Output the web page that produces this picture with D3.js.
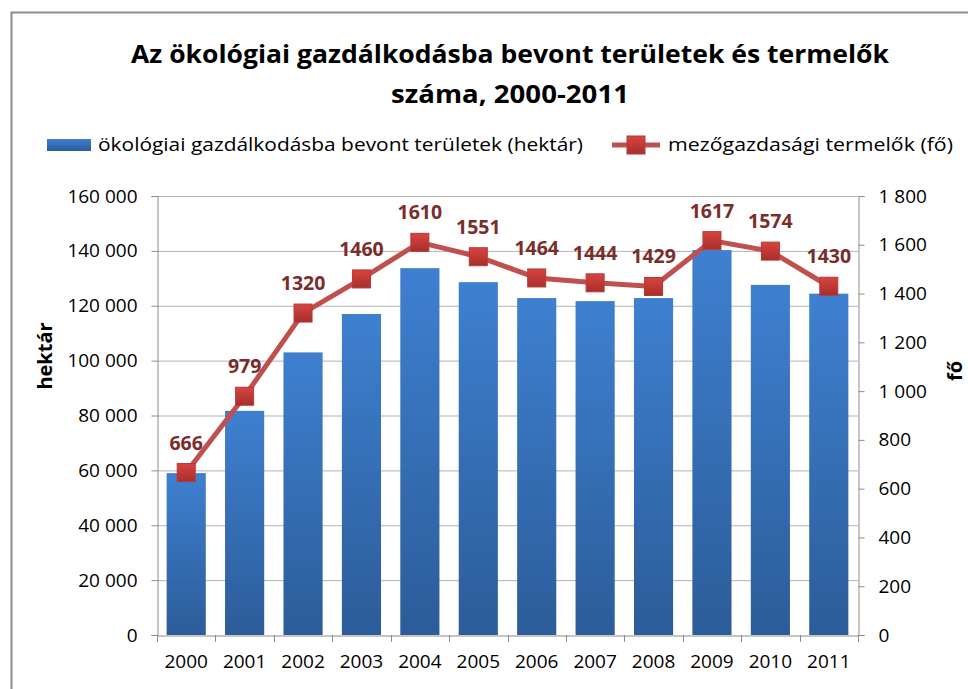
<!DOCTYPE html>
<html><head><meta charset="utf-8">
<script src="https://cdn.jsdelivr.net/npm/d3@7"></script>
<style>body{margin:0;background:#fff}svg{display:block}text{font-family:"Open Sans","DejaVu Sans",sans-serif}</style>
</head><body><svg id="c" width="968" height="689"></svg>
<script>
const years = ["2000","2001","2002","2003","2004","2005","2006","2007","2008","2009","2010","2011"];
const areaHa = [59000,81700,103000,117000,133700,128600,122800,121700,122800,140300,127600,124400];
const producers = [666,979,1320,1460,1610,1551,1464,1444,1429,1617,1574,1430];
const leftTicks = [0,20000,40000,60000,80000,100000,120000,140000,160000];
const rightTicks = [0,200,400,600,800,1000,1200,1400,1600,1800];
const titleLines = ["Az ökológiai gazdálkodásba  bevont területek és termelők","száma, 2000-2011"];
const seriesNames = ["ökológiai gazdálkodásba bevont területek (hektár)","mezőgazdasági termelők (fő)"];

const svg = d3.select("#c");
const L=157, R=858, T=196, B=635;
const fmt = v => d3.format(",")(v).replace(/,/g," ");

const defs = svg.append("defs");
const bg = defs.append("linearGradient").attr("id","bg").attr("x1",0).attr("y1",0).attr("x2",0).attr("y2",1);
bg.append("stop").attr("offset","0%").attr("stop-color","#3e80d0");
bg.append("stop").attr("offset","100%").attr("stop-color","#2c5c99");
const mg = defs.append("linearGradient").attr("id","mg").attr("x1",0).attr("y1",0).attr("x2",0).attr("y2",1);
mg.append("stop").attr("offset","0%").attr("stop-color","#d84440");
mg.append("stop").attr("offset","100%").attr("stop-color","#a82e2b");

// border
svg.append("path").attr("d","M11.5,689 V12.5 H968").attr("fill","none").attr("stroke","#8c8c8c").attr("stroke-width",2);

// title
svg.selectAll("text.title").data(titleLines).join("text").attr("class","title")
  .attr("x",510).attr("y",(d,i)=>63+i*40).attr("text-anchor","middle")
  .attr("font-size",25).attr("font-weight","bold").attr("fill","#000")
  .attr("textLength",(d,i)=>i===0?758:238).attr("lengthAdjust","spacingAndGlyphs")
  .text(d=>d);

const x = d3.scaleBand().domain(years).range([L,R]).paddingInner(0.33).paddingOuter(0.165);
const yL = d3.scaleLinear().domain([0,160000]).range([B,T]);
const yR = d3.scaleLinear().domain([0,1800]).range([B,T]);

// gridlines
svg.append("g").selectAll("line").data(leftTicks.slice(1)).join("line")
  .attr("x1",L).attr("x2",R).attr("y1",d=>yL(d)+0.5).attr("y2",d=>yL(d)+0.5)
  .attr("stroke","#b3b3b3").attr("stroke-width",1);

// bars
svg.append("g").selectAll("rect").data(areaHa).join("rect")
  .attr("x",(d,i)=>x(years[i])).attr("width",x.bandwidth())
  .attr("y",d=>yL(d)).attr("height",d=>B-yL(d)).attr("fill","url(#bg)");

// axes
const axL = svg.append("g").attr("transform",`translate(${L+0.5},0)`)
  .call(d3.axisLeft(yL).tickValues(leftTicks).tickFormat(fmt).tickSize(6).tickPadding(14));
const axR = svg.append("g").attr("transform",`translate(${R+0.5},0)`)
  .call(d3.axisRight(yR).tickValues(rightTicks).tickFormat(fmt).tickSize(6).tickPadding(14));
const xb = d3.scaleBand().domain(years).range([L,R]);
const axB = svg.append("g").attr("transform",`translate(0,${B+0.5})`)
  .call(d3.axisBottom(xb).tickSize(0).tickPadding(19));
[axL,axR,axB].forEach(a=>{
  a.select(".domain").attr("stroke","#8c8c8c");
  a.selectAll(".tick line").attr("stroke","#8c8c8c");
  a.selectAll("text").attr("font-size",19).attr("fill","#000").attr("font-family","'Open Sans',sans-serif");
});
// category separator ticks
svg.append("g").selectAll("line").data(d3.range(years.length+1)).join("line")
  .attr("x1",i=>Math.round(L+i*xb.step())+0.5).attr("x2",i=>Math.round(L+i*xb.step())+0.5)
  .attr("y1",B).attr("y2",B+7).attr("stroke","#8c8c8c");

// axis titles
svg.append("text").attr("transform","translate(52,356) rotate(-90)").attr("text-anchor","middle")
  .attr("font-size",20).attr("font-weight","bold").text("hektár");
svg.append("text").attr("transform","translate(962,371) rotate(-90)").attr("text-anchor","middle")
  .attr("font-size",20).attr("font-weight","bold").text("fő");

// line
const cx = i => x(years[i]) + x.bandwidth()/2;
const line = d3.line().x((d,i)=>cx(i)).y(d=>yR(d));
svg.append("path").datum(producers).attr("d",line).attr("fill","none")
  .attr("stroke","#c0504d").attr("stroke-width",5).attr("stroke-linejoin","round");
svg.append("g").selectAll("rect").data(producers).join("rect")
  .attr("x",(d,i)=>cx(i)-9).attr("y",d=>yR(d)-9).attr("width",18).attr("height",18)
  .attr("fill","url(#mg)").attr("stroke","#b33a37").attr("stroke-width",1);
svg.append("g").selectAll("text").data(producers).join("text")
  .attr("x",(d,i)=>cx(i)).attr("y",d=>yR(d)-23).attr("text-anchor","middle")
  .attr("font-size",19.5).attr("font-weight","bold").attr("fill","#7a2d2b").text(d=>d);

// legend
svg.append("rect").attr("x",47).attr("y",139).attr("width",44).attr("height",12).attr("fill","url(#bg)");
svg.append("text").attr("x",98).attr("y",151).attr("font-size",17.5).attr("textLength",485).attr("lengthAdjust","spacingAndGlyphs").text(seriesNames[0]);
svg.append("line").attr("x1",612).attr("x2",660).attr("y1",145).attr("y2",145).attr("stroke","#c0504d").attr("stroke-width",5);
svg.append("rect").attr("x",627).attr("y",136).attr("width",18).attr("height",18).attr("fill","url(#mg)").attr("stroke","#b33a37");
svg.append("text").attr("x",668).attr("y",151).attr("font-size",17.5).attr("textLength",285).attr("lengthAdjust","spacingAndGlyphs").text(seriesNames[1]);
</script></body></html>
